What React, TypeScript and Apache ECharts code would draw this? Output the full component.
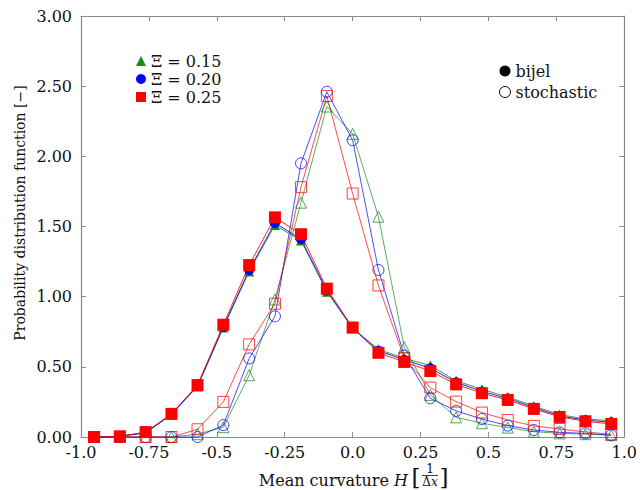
import React, { useEffect, useRef } from "react";
import * as echarts from "echarts";

// Bin centres of the mean-curvature histogram (21 bins over [-1, 1])
const curvature = [
  -0.952, -0.857, -0.762, -0.667, -0.571, -0.476, -0.381, -0.286, -0.19, -0.095, 0,
  0.095, 0.19, 0.286, 0.381, 0.476, 0.571, 0.667, 0.762, 0.857, 0.952,
];

// Bijel structures (filled markers)
const bijel015 = [0, 0.005, 0.03, 0.16, 0.36, 0.78, 1.18, 1.51, 1.4, 1.035, 0.775, 0.625, 0.56, 0.51, 0.4, 0.34, 0.285, 0.22, 0.16, 0.128, 0.116];
const bijel020 = [0, 0.005, 0.03, 0.16, 0.365, 0.785, 1.19, 1.525, 1.41, 1.045, 0.775, 0.615, 0.55, 0.49, 0.39, 0.325, 0.275, 0.21, 0.15, 0.12, 0.105];
const bijel025 = [0, 0.005, 0.035, 0.165, 0.37, 0.8, 1.225, 1.565, 1.445, 1.057, 0.78, 0.6, 0.535, 0.47, 0.375, 0.312, 0.264, 0.2, 0.143, 0.112, 0.093];

// Stochastic structures (open markers)
const stoch015 = [0, 0, 0, 0, 0.02, 0.07, 0.44, 0.98, 1.67, 2.355, 2.16, 1.57, 0.64, 0.3, 0.14, 0.098, 0.067, 0.038, 0.026, 0.02, 0.013];
const stoch020 = [0, 0, 0, 0, 0, 0.085, 0.56, 0.86, 1.95, 2.46, 2.115, 1.19, 0.58, 0.276, 0.186, 0.128, 0.081, 0.05, 0.033, 0.026, 0.013];
const stoch025 = [0, 0, 0, 0, 0.055, 0.25, 0.66, 0.95, 1.78, 2.43, 1.735, 1.08, 0.56, 0.352, 0.252, 0.174, 0.121, 0.079, 0.057, 0.036, 0.019];

const xTickLabels = ["-1.0", "-0.75", "-0.5", "-0.25", "0.0", "0.25", "0.5", "0.75", "1.0"];
const yTickLabels = ["0.00", "0.50", "1.00", "1.50", "2.00", "2.50", "3.00"];

const seriesNames = ["Ξ = 0.15", "Ξ = 0.20", "Ξ = 0.25"];
const seriesColors = ["#1a8a1a", "#0000ff", "#ff0000"];
const seriesSymbols = ["triangle", "circle", "rect"];

const FONT = "DejaVu Serif";
const AXIS_GRAY = "#8a8a8a";

const pairs = (ys: number[]) => curvature.map((x, i) => [x, ys[i]]);

export default function App() {
  const ref = useRef<HTMLDivElement>(null);

  useEffect(() => {
    if (!ref.current) return;
    document.body.style.margin = "0";
    const chart = echarts.init(ref.current, null, { renderer: "svg" });

    const bijel = [bijel015, bijel020, bijel025];
    const stoch = [stoch015, stoch020, stoch025];
    const filledSizes = [10, 10, 12];
    const openSizes = [11, 11, 11];

    const stochSeries = stoch.map((ys, k) => ({
      type: "line",
      name: seriesNames[k] + " (stochastic)",
      data: pairs(ys),
      symbol: seriesSymbols[k],
      symbolSize: openSizes[k],
      clip: false,
      z: 2,
      lineStyle: { color: seriesColors[k], width: 1, opacity: 0.7 },
      itemStyle: { color: "rgba(0,0,0,0)", borderColor: seriesColors[k], borderWidth: 1, opacity: 0.75 },
      emphasis: { disabled: true },
    }));

    const bijelSeries = bijel.map((ys, k) => ({
      type: "line",
      name: seriesNames[k],
      data: pairs(ys),
      symbol: seriesSymbols[k],
      symbolSize: filledSizes[k],
      clip: false,
      z: 3,
      lineStyle: { color: seriesColors[k], width: 1, opacity: 0.85 },
      itemStyle: { color: seriesColors[k], borderWidth: 0 },
      emphasis: { disabled: true },
    }));

    const axisCommon = {
      type: "value",
      axisLine: { show: true, onZero: false, lineStyle: { color: AXIS_GRAY, width: 1.2 } },
      axisTick: { show: true, inside: true, length: 5, lineStyle: { color: AXIS_GRAY } },
      splitLine: { show: false },
    };

    chart.setOption({
      animation: false,
      backgroundColor: "#fff",
      textStyle: { fontFamily: FONT },
      grid: { left: 81, right: 11, top: 16, bottom: 53, containLabel: false },
      xAxis: [
        {
          ...axisCommon,
          position: "bottom",
          min: -1,
          max: 1,
          interval: 0.25,
          axisLabel: {
            color: "#111",
            fontFamily: FONT,
            fontSize: 16,
            margin: 7,
            formatter: (v: number) => xTickLabels[Math.round((v + 1) / 0.25)],
          },
        },
        {
          ...axisCommon,
          position: "top",
          min: -1,
          max: 1,
          interval: 0.25,
          axisLabel: { show: false },
        },
      ],
      yAxis: [
        {
          ...axisCommon,
          position: "left",
          min: 0,
          max: 3,
          interval: 0.5,
          axisLabel: {
            color: "#111",
            fontFamily: FONT,
            fontSize: 16,
            margin: 9,
            formatter: (v: number) => yTickLabels[Math.round(v / 0.5)],
          },
        },
        {
          ...axisCommon,
          position: "right",
          min: 0,
          max: 3,
          interval: 0.5,
          axisLabel: { show: false },
        },
      ],
      legend: [
        {
          left: 131,
          top: 47,
          orient: "vertical",
          itemWidth: 10,
          itemHeight: 10,
          itemGap: 0,
          itemTextGap: 5,
          selectedMode: false,
          textStyle: { fontFamily: FONT, fontSize: 16, color: "#111", lineHeight: 18 },
          data: seriesNames.map((n, k) => ({ name: n, icon: seriesSymbols[k] })),
        },
        {
          left: 494,
          top: 56,
          orient: "vertical",
          itemWidth: 11,
          itemHeight: 11,
          itemGap: 1,
          itemTextGap: 5,
          selectedMode: false,
          textStyle: { fontFamily: FONT, fontSize: 16, color: "#111", lineHeight: 20 },
          data: [
            { name: "bijel", icon: "circle", itemStyle: { color: "#000", borderWidth: 0 } },
            {
              name: "stochastic",
              icon: "circle",
              itemStyle: { color: "#fff", borderColor: "#000", borderWidth: 1 },
            },
          ],
        },
      ],
      series: [
        ...stochSeries,
        ...bijelSeries,
        { type: "line", name: "bijel", data: [], itemStyle: { color: "#000" } },
        { type: "line", name: "stochastic", data: [], itemStyle: { color: "#000" } },
      ],
      graphic: [
        {
          type: "text",
          x: 20,
          y: 213,
          rotation: Math.PI / 2,
          style: {
            text: "Probability distribution function [−]",
            fontFamily: FONT,
            fontSize: 14,
            fill: "#111",
            align: "center",
            verticalAlign: "middle",
          },
        },
        {
          type: "text",
          x: 408,
          y: 480,
          style: {
            text: "Mean curvature {i|H}",
            rich: { i: { fontStyle: "italic", fontFamily: FONT, fontSize: 16, fill: "#111" } },
            fontFamily: FONT,
            fontSize: 16,
            fill: "#111",
            align: "right",
            verticalAlign: "middle",
          },
        },
        {
          type: "text",
          x: 416,
          y: 477,
          style: { text: "[", fontFamily: FONT, fontSize: 23, fill: "#111", align: "center", verticalAlign: "middle" },
        },
        {
          type: "text",
          x: 444,
          y: 477,
          style: { text: "]", fontFamily: FONT, fontSize: 23, fill: "#111", align: "center", verticalAlign: "middle" },
        },
        {
          type: "text",
          x: 430,
          y: 469,
          style: { text: "1", fontFamily: FONT, fontSize: 12, fill: "#111", align: "center", verticalAlign: "middle" },
        },
        {
          type: "line",
          shape: { x1: 422, y1: 475.5, x2: 438, y2: 475.5 },
          style: { stroke: "#111", lineWidth: 0.8 },
        },
        {
          type: "text",
          x: 430,
          y: 482,
          style: {
            text: "Δ{i|x}",
            rich: { i: { fontStyle: "italic", fontFamily: FONT, fontSize: 12, fill: "#111" } },
            fontFamily: FONT,
            fontSize: 12,
            fill: "#111",
            align: "center",
            verticalAlign: "middle",
          },
        },
      ],
    });

    return () => chart.dispose();
  }, []);

  return <div ref={ref} style={{ width: 640, height: 490 }} />;
}
